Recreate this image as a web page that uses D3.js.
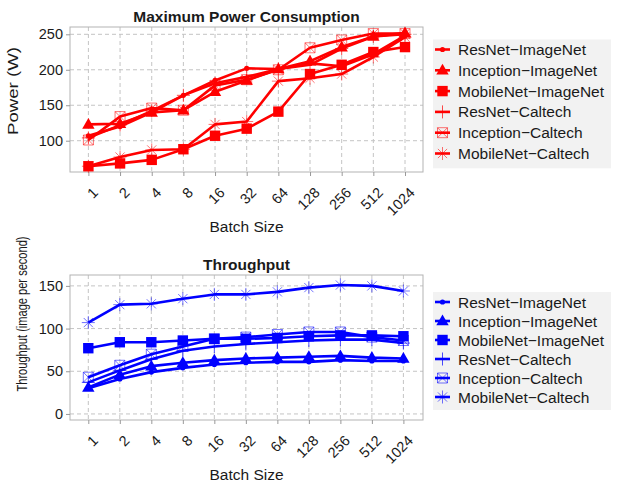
<!DOCTYPE html>
<html>
<head>
<meta charset="utf-8">
<script src="https://cdn.jsdelivr.net/npm/d3@7"></script>
<style>
body { margin: 0; background: #fff; }
svg text { font-family: 'Liberation Sans', Arial, sans-serif; fill: #1a1a1a; }
</style>
</head>
<body>
<div id="chart"></div>
<script>
// batch sizes on the x axis
const batchSizes = ['1', '2', '4', '8', '16', '32', '64', '128', '256', '512', '1024']

const seriesNames = ['ResNet−ImageNet', 'Inception−ImageNet', 'MobileNet−ImageNet', 'ResNet−Caltech', 'Inception−Caltech', 'MobileNet−Caltech']
const seriesMarkers = ['dot', 'triangle', 'square', 'plus', 'squareX', 'asterisk']

// maximum power (W)
const powerResNetImageNet = [107, 120, 140, 164, 185, 202, 201, 209, 205, 222, 248]
const powerInceptionImageNet = [123, 124, 140, 143, 169, 185, 201, 212, 232, 247, 252]
const powerMobileNetImageNet = [64, 68, 73, 88, 107, 117, 141, 194, 207, 225, 232]
const powerResNetCaltech = [104, 122, 142, 164, 181, 190, 201, 207, 230, 247, 250]
const powerInceptionCaltech = [101, 134, 146, 143, 178, 186, 200, 231, 242, 251, 251]
const powerMobileNetCaltech = [64, 77, 87, 88, 123, 127, 184, 188, 194, 218, 246]

// throughput (images per second)
const tputResNetImageNet = [30, 41, 49, 54, 58, 60, 61, 61, 63, 62, 62]
const tputInceptionImageNet = [31, 46, 56, 60, 63, 65, 66, 67, 68, 66, 65]
const tputMobileNetImageNet = [77, 84, 84, 86, 88, 88, 89, 91, 92, 92, 91]
const tputResNetCaltech = [37, 51, 64, 74, 79, 82, 84, 86, 87, 87, 83]
const tputInceptionCaltech = [43, 57, 70, 79, 88, 90, 93, 96, 96, 90, 86]
const tputMobileNetCaltech = [107, 128, 129, 135, 140, 140, 143, 148, 151, 150, 144]

const powerTicks = [100, 150, 200, 250]
const tputTicks = [0, 50, 100, 150]

const width = 618
const height = 483

const svg = d3.select('#chart')
.append('svg')
.attr('width', width)
.attr('height', height)

const drawMarker = (g, type, color) => {
	if (type === 'dot') {
		g.append('circle').attr('r', 2.6).attr('fill', color)
	} else if (type === 'triangle') {
		g.append('path').attr('d', 'M0,-6.5L6.2,4.3L-6.2,4.3Z').attr('fill', color)
	} else if (type === 'square') {
		g.append('rect').attr('x', -5.2).attr('y', -5.2).attr('width', 10.4).attr('height', 10.4).attr('fill', color)
	} else if (type === 'plus') {
		g.append('path').attr('d', 'M-6.5,0H6.5M0,-6.5V6.5').attr('stroke', color).attr('stroke-width', 1).attr('opacity', 0.7)
	} else if (type === 'squareX') {
		g.append('path').attr('d', 'M-5,-5H5V5H-5ZM-5,-5L5,5M5,-5L-5,5')
		.attr('fill', 'none').attr('stroke', color).attr('stroke-width', 1).attr('opacity', 0.55)
	} else if (type === 'asterisk') {
		g.append('path').attr('d', 'M-6.5,0H6.5M0,-6.5V6.5M-4.6,-4.6L4.6,4.6M4.6,-4.6L-4.6,4.6')
		.attr('stroke', color).attr('stroke-width', 1).attr('opacity', 0.55)
	}
}

const drawPanel = (cfg) => {

	const x = d3.scalePoint()
	.domain(batchSizes)
	.range([cfg.x0, cfg.x1])

	const y = d3.scaleLinear()
	.domain(cfg.yDomain)
	.range([cfg.bottom, cfg.top])

	const g = svg.append('g')

	// grid
	g.selectAll('.vgrid')
	.data(batchSizes)
	.enter()
	.append('line')
	.attr('x1', d => x(d)).attr('x2', d => x(d))
	.attr('y1', cfg.top).attr('y2', cfg.bottom)
	.attr('stroke', '#c4c4c4').attr('stroke-dasharray', '4,3')

	g.selectAll('.hgrid')
	.data(cfg.ticks)
	.enter()
	.append('line')
	.attr('x1', cfg.left).attr('x2', cfg.right)
	.attr('y1', d => y(d)).attr('y2', d => y(d))
	.attr('stroke', '#c4c4c4').attr('stroke-dasharray', '4,3')

	// frame
	g.append('rect')
	.attr('x', cfg.left).attr('y', cfg.top)
	.attr('width', cfg.right - cfg.left).attr('height', cfg.bottom - cfg.top)
	.attr('fill', 'none').attr('stroke', '#b3b3b3')

	// axes
	const yAxis = g.append('g')
	.attr('transform', `translate(${cfg.left},0)`)
	.call(d3.axisLeft(y).tickValues(cfg.ticks).tickSize(4).tickPadding(3))

	yAxis.select('.domain').remove()
	yAxis.selectAll('line').attr('stroke', '#999')
	yAxis.selectAll('text').attr('font-size', '14.5px').attr('fill', '#1a1a1a')
	.style('font-family', "'Liberation Sans', Arial, sans-serif")

	const xAxis = g.append('g')
	.attr('transform', `translate(0,${cfg.bottom})`)
	.call(d3.axisBottom(x).tickSize(4).tickFormat(''))

	xAxis.select('.domain').remove()
	xAxis.selectAll('line').attr('stroke', '#999')

	g.selectAll('.xlab')
	.data(batchSizes)
	.enter()
	.append('text')
	.attr('transform', d => `translate(${x(d) + 7},${cfg.bottom + 18}) rotate(-45)`)
	.attr('text-anchor', 'end')
	.attr('dy', '0.35em')
	.attr('font-size', '14.5px')
	.text(d => d)

	// titles
	g.append('text')
	.attr('x', (cfg.left + cfg.right) / 2)
	.attr('y', cfg.top - 5.5)
	.attr('text-anchor', 'middle')
	.attr('font-weight', 'bold')
	.attr('font-size', '15.5px')
	.attr('fill', '#000')
	.text(cfg.title)

	g.append('text')
	.attr('x', 246.5)
	.attr('y', cfg.bottom + 59.5)
	.attr('text-anchor', 'middle')
	.attr('font-size', '15.5px')
	.text('Batch Size')

	g.append('text')
	.attr('transform', `translate(${cfg.yLabelX},${cfg.yLabelY}) rotate(-90)`)
	.attr('text-anchor', 'middle')
	.attr('font-size', '14px')
	.attr('textLength', cfg.yLabelLength)
	.attr('lengthAdjust', 'spacingAndGlyphs')
	.text(cfg.yLabel)

	// series
	const line = d3.line()
	.x((d, i) => x(batchSizes[i]))
	.y(d => y(d))

	cfg.series.forEach((vals, si) => {
		g.append('path')
		.datum(vals)
		.attr('d', line)
		.attr('fill', 'none')
		.attr('stroke', cfg.color)
		.attr('stroke-width', 2.6)
		.attr('stroke-linejoin', 'round')

		vals.forEach((v, i) => {
			const m = g.append('g').attr('transform', `translate(${x(batchSizes[i])},${y(v)})`)
			drawMarker(m, seriesMarkers[si], cfg.color)
		})
	})

	// legend
	const leg = svg.append('g')

	leg.append('rect')
	.attr('x', 433).attr('y', cfg.legTop)
	.attr('width', 178).attr('height', cfg.legStep * 6 + 4)
	.attr('fill', '#f2f2f2')

	seriesNames.forEach((name, si) => {
		const cy = cfg.legTop + 10 + si * cfg.legStep
		leg.append('line')
		.attr('x1', 435).attr('x2', 450)
		.attr('y1', cy).attr('y2', cy)
		.attr('stroke', cfg.color).attr('stroke-width', 2.6)

		const m = leg.append('g').attr('transform', `translate(442.5,${cy})`)
		drawMarker(m, seriesMarkers[si], cfg.color)

		leg.append('text')
		.attr('x', 458)
		.attr('y', cy)
		.attr('dy', '0.36em')
		.attr('font-size', '15.5px')
		.text(name)
	})
}

drawPanel({
	title: 'Maximum Power Consumption',
	yLabel: 'Power (W)',
	yLabelX: 18, yLabelY: 91, yLabelLength: 88,
	color: '#ff0000',
	left: 70, right: 423, top: 27, bottom: 172,
	x0: 88.4, x1: 405,
	yDomain: [55.9, 260.3],
	ticks: powerTicks,
	series: [powerResNetImageNet, powerInceptionImageNet, powerMobileNetImageNet, powerResNetCaltech, powerInceptionCaltech, powerMobileNetCaltech],
	legTop: 39.5, legStep: 20.8
})

drawPanel({
	title: 'Throughput',
	yLabel: 'Throughput (image per second)',
	yLabelX: 27, yLabelY: 314, yLabelLength: 155,
	color: '#0000ff',
	left: 70, right: 423, top: 275, bottom: 420,
	x0: 88.3, x1: 403.4,
	yDomain: [-7.1, 162.75],
	ticks: tputTicks,
	series: [tputResNetImageNet, tputInceptionImageNet, tputMobileNetImageNet, tputResNetCaltech, tputInceptionCaltech, tputMobileNetCaltech],
	legTop: 292, legStep: 19
})
</script>
</body>
</html>
